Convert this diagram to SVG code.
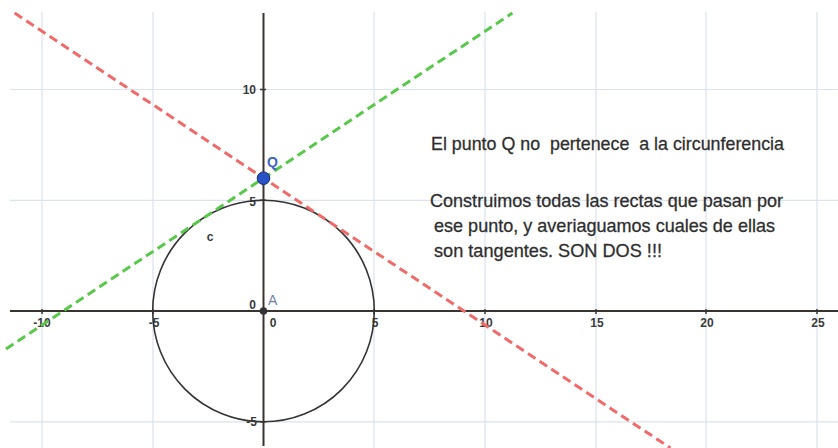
<svg xmlns="http://www.w3.org/2000/svg" width="838" height="448" viewBox="0 0 838 448">
<style>
.grid{stroke:#dbe3ee;stroke-width:1.2;fill:none}
.axis{stroke:#3a3430;stroke-width:2;fill:none}
.tick{stroke:#3a3430;stroke-width:1.5}
.lbl{font-family:"Liberation Sans",Arial,sans-serif;font-size:12px;font-weight:bold;fill:#3a3a3a}
.txt{font-family:"Liberation Sans",Arial,sans-serif;font-size:19px;fill:#2e2e2e;stroke:#2e2e2e;stroke-width:0.3}
.tan{fill:none;stroke-width:3;stroke-dasharray:9 5}
</style>
<rect width="838" height="448" fill="#fff"/>
<g id="grid">
<path class="grid" d="M42 12V448M153 12V448M374 12V448M485 12V448M596 12V448M706 12V448M817 12V448M10 89.5H838M10 200.3H838M10 421.8H838"/>
</g>
<g id="axes">
<path class="axis" d="M10 311H838"/>
<path class="axis" d="M263.5 13V446"/>
<path class="tick" d="M42 309V314M153 309V314M374 309V314M485 309V314M596 309V314M706 309V314M817 309V314M260 89.5H266M260 200.3H266M260 421.8H266"/>
<text class="lbl" x="42" y="327" text-anchor="middle">-10</text>
<text class="lbl" x="154" y="327" text-anchor="middle">-5</text>
<text class="lbl" x="375" y="327" text-anchor="middle">5</text>
<text class="lbl" x="486" y="327" text-anchor="middle">10</text>
<text class="lbl" x="597" y="327" text-anchor="middle">15</text>
<text class="lbl" x="707" y="327" text-anchor="middle">20</text>
<text class="lbl" x="818" y="327" text-anchor="middle">25</text>
<text class="lbl" x="273" y="327" text-anchor="middle">0</text>
<text class="lbl" x="256" y="94" text-anchor="end">10</text>
<text class="lbl" x="256" y="206" text-anchor="end">5</text>
<text class="lbl" x="256" y="309" text-anchor="end">0</text>
<text class="lbl" x="257" y="426" text-anchor="end">-5</text>
</g>
<g id="circle-c">
<circle cx="263.5" cy="311" r="110.8" fill="none" stroke="#333" stroke-width="1.6"/>
<text class="lbl" x="210" y="241" text-anchor="middle" font-size="13">c</text>
</g>
<g id="connectors">
<line class="tan" x1="6" y1="349" x2="512.4" y2="13" stroke="#58c84a"/>
<line class="tan" x1="14.6" y1="13" x2="670.4" y2="448" stroke="#f06a6a"/>
</g>
<g id="point-A">
<circle cx="263.5" cy="311" r="3.8" fill="#333"/>
<text x="268" y="305" font-family="Liberation Sans,Arial,sans-serif" font-size="14" fill="#7080a8">A</text>
</g>
<g id="point-Q">
<circle cx="263.5" cy="178.2" r="6.3" fill="#2a52c8" stroke="#1a2a70" stroke-width="1"/>
<text x="267" y="167" font-family="Liberation Sans,Arial,sans-serif" font-size="14" font-weight="bold" fill="#3a62c8">Q</text>
</g>
<g id="text">
<text class="txt" x="431" y="150" textLength="353" lengthAdjust="spacingAndGlyphs" xml:space="preserve">El punto Q no  pertenece  a la circunferencia</text>
<text class="txt" x="430" y="207" textLength="353" lengthAdjust="spacingAndGlyphs">Construimos todas las rectas que pasan por</text>
<text class="txt" x="434" y="232" textLength="341" lengthAdjust="spacingAndGlyphs">ese punto, y averiaguamos cuales de ellas</text>
<text class="txt" x="434" y="257" textLength="228" lengthAdjust="spacingAndGlyphs">son tangentes. SON DOS !!!</text>
</g>
</svg>
